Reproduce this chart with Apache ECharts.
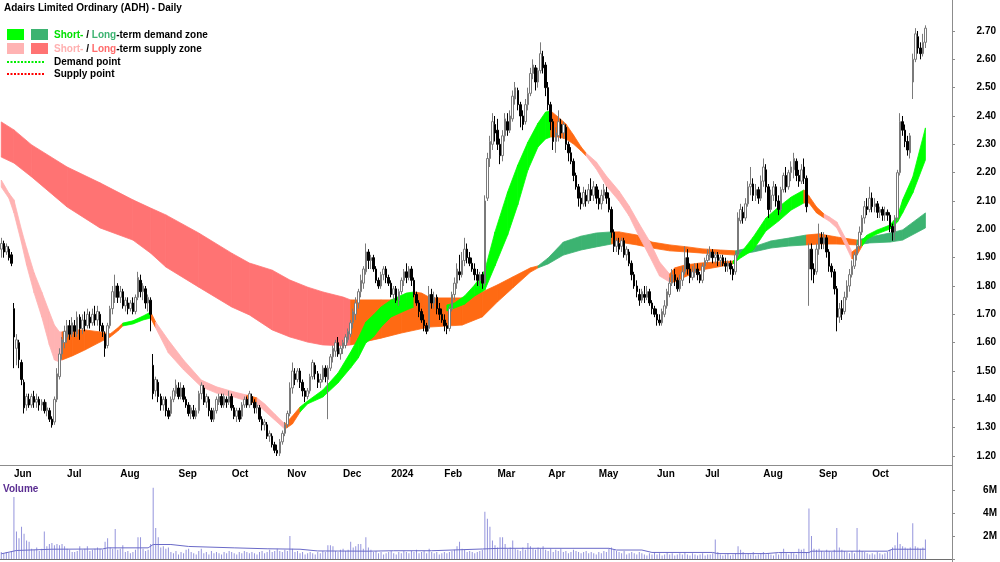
<!DOCTYPE html>
<html>
<head>
<meta charset="utf-8">
<script src="https://cdn.jsdelivr.net/npm/echarts@6/dist/echarts.min.js"></script>
<style>
  html, body { margin: 0; padding: 0; background: #fff; }
  #main { width: 1000px; height: 562px; }
</style>
</head>
<body>
<div id="main"></div>
<script>
// daily bars, 25 May 2023 .. 31 Oct 2024 : [open, close, low, high]
var ohlc = [
 [1.93,1.95,1.90,1.97],[1.95,1.92,1.90,1.96],[1.92,1.94,1.91,1.95],[1.93,1.90,1.89,1.94],[1.91,1.88,1.87,1.92],
 [1.72,1.62,1.51,1.74],[1.58,1.61,1.52,1.63],[1.60,1.54,1.51,1.61],[1.53,1.47,1.45,1.54],[1.46,1.37,1.35,1.47],
 [1.38,1.41,1.36,1.42],[1.40,1.38,1.37,1.42],[1.38,1.41,1.37,1.42],[1.41,1.39,1.37,1.43],[1.39,1.40,1.37,1.42],
 [1.40,1.38,1.36,1.41],[1.38,1.39,1.36,1.40],[1.39,1.36,1.35,1.40],[1.36,1.37,1.34,1.39],[1.36,1.33,1.32,1.37],
 [1.33,1.31,1.30,1.34],[1.32,1.40,1.31,1.41],[1.40,1.49,1.39,1.51],[1.48,1.56,1.47,1.58],[1.56,1.61,1.54,1.62],
 [1.60,1.64,1.58,1.66],[1.62,1.66,1.60,1.68],[1.66,1.63,1.61,1.68],[1.63,1.67,1.62,1.69],[1.66,1.64,1.62,1.68],
 [1.63,1.69,1.62,1.71],[1.69,1.65,1.61,1.70],[1.65,1.68,1.63,1.70],[1.68,1.66,1.64,1.71],[1.66,1.70,1.65,1.72],
 [1.69,1.67,1.65,1.71],[1.67,1.70,1.66,1.72],[1.70,1.68,1.66,1.73],[1.68,1.71,1.66,1.73],[1.70,1.66,1.64,1.71],
 [1.66,1.64,1.62,1.67],[1.63,1.58,1.55,1.64],[1.59,1.66,1.58,1.67],[1.66,1.72,1.65,1.73],[1.72,1.78,1.70,1.80],
 [1.76,1.80,1.74,1.84],[1.80,1.76,1.74,1.81],[1.76,1.78,1.74,1.80],[1.78,1.73,1.72,1.79],[1.73,1.75,1.71,1.76],
 [1.74,1.72,1.70,1.76],[1.72,1.74,1.71,1.75],[1.74,1.71,1.70,1.76],[1.71,1.76,1.70,1.77],[1.76,1.83,1.75,1.85],
 [1.82,1.78,1.76,1.84],[1.78,1.80,1.75,1.81],[1.79,1.74,1.72,1.80],[1.74,1.76,1.71,1.77],[1.75,1.70,1.64,1.76],
 [1.52,1.42,1.40,1.56],[1.43,1.47,1.41,1.48],[1.46,1.41,1.39,1.47],[1.41,1.38,1.36,1.42],[1.38,1.40,1.36,1.41],
 [1.40,1.36,1.34,1.41],[1.36,1.34,1.33,1.37],[1.35,1.40,1.34,1.41],[1.40,1.43,1.39,1.44],[1.42,1.45,1.41,1.47],
 [1.44,1.41,1.40,1.46],[1.41,1.44,1.40,1.46],[1.44,1.40,1.39,1.45],[1.40,1.38,1.37,1.41],[1.38,1.35,1.34,1.39],
 [1.35,1.37,1.33,1.38],[1.36,1.34,1.33,1.38],[1.34,1.36,1.33,1.37],[1.36,1.42,1.35,1.43],[1.42,1.45,1.40,1.46],
 [1.44,1.39,1.38,1.45],[1.39,1.41,1.37,1.42],[1.40,1.36,1.34,1.41],[1.36,1.33,1.32,1.37],[1.33,1.36,1.32,1.37],
 [1.36,1.40,1.35,1.41],[1.39,1.41,1.38,1.42],[1.41,1.38,1.37,1.42],[1.38,1.41,1.37,1.42],[1.40,1.39,1.37,1.41],
 [1.39,1.41,1.38,1.43],[1.41,1.37,1.36,1.42],[1.37,1.34,1.33,1.38],[1.34,1.36,1.32,1.37],[1.36,1.33,1.32,1.37],
 [1.34,1.38,1.33,1.39],[1.38,1.40,1.37,1.41],[1.40,1.38,1.37,1.41],[1.38,1.42,1.37,1.43],[1.41,1.39,1.38,1.42],
 [1.39,1.37,1.35,1.40],[1.37,1.38,1.35,1.39],[1.37,1.33,1.32,1.38],[1.33,1.31,1.29,1.34],[1.31,1.32,1.29,1.33],
 [1.31,1.27,1.26,1.32],[1.27,1.28,1.25,1.29],[1.27,1.24,1.23,1.28],[1.24,1.22,1.21,1.25],[1.22,1.21,1.20,1.24],
 [1.21,1.25,1.20,1.26],[1.25,1.28,1.24,1.29],[1.28,1.31,1.27,1.32],[1.31,1.35,1.30,1.36],[1.35,1.44,1.34,1.46],
 [1.44,1.50,1.42,1.53],[1.49,1.47,1.45,1.51],[1.47,1.50,1.46,1.51],[1.50,1.46,1.44,1.51],[1.46,1.43,1.41,1.47],
 [1.43,1.41,1.39,1.44],[1.41,1.43,1.40,1.44],[1.43,1.48,1.42,1.49],[1.48,1.53,1.47,1.54],[1.52,1.49,1.47,1.53],
 [1.49,1.46,1.44,1.50],[1.46,1.47,1.44,1.49],[1.47,1.51,1.46,1.52],[1.51,1.48,1.46,1.52],[1.47,1.51,1.33,1.52],
 [1.51,1.55,1.50,1.56],[1.55,1.58,1.53,1.59],[1.57,1.60,1.55,1.61],[1.60,1.56,1.55,1.62],[1.56,1.58,1.54,1.59],
 [1.58,1.60,1.56,1.61],[1.59,1.62,1.58,1.63],[1.61,1.64,1.60,1.65],[1.63,1.67,1.62,1.68],[1.67,1.71,1.65,1.72],
 [1.70,1.74,1.68,1.76],[1.74,1.78,1.72,1.79],[1.78,1.82,1.76,1.84],[1.81,1.86,1.79,1.87],[1.85,1.92,1.84,1.95],
 [1.92,1.89,1.86,1.93],[1.89,1.90,1.86,1.91],[1.90,1.86,1.85,1.91],[1.86,1.82,1.81,1.87],[1.82,1.80,1.79,1.83],
 [1.80,1.84,1.79,1.85],[1.84,1.86,1.82,1.87],[1.86,1.83,1.81,1.87],[1.83,1.81,1.80,1.84],[1.81,1.77,1.76,1.82],
 [1.77,1.79,1.75,1.80],[1.79,1.75,1.74,1.80],[1.75,1.78,1.73,1.79],[1.78,1.82,1.77,1.83],[1.82,1.85,1.80,1.86],
 [1.85,1.83,1.81,1.88],[1.83,1.86,1.82,1.87],[1.86,1.82,1.80,1.87],[1.82,1.77,1.76,1.83],[1.77,1.74,1.73,1.78],
 [1.74,1.71,1.69,1.75],[1.71,1.68,1.67,1.72],[1.68,1.66,1.64,1.70],[1.66,1.64,1.63,1.67],[1.65,1.77,1.64,1.80],
 [1.77,1.74,1.72,1.79],[1.74,1.76,1.72,1.78],[1.76,1.72,1.70,1.77],[1.72,1.70,1.68,1.74],[1.70,1.68,1.67,1.72],
 [1.68,1.66,1.64,1.70],[1.66,1.65,1.63,1.67],[1.65,1.72,1.64,1.73],[1.72,1.77,1.71,1.78],[1.77,1.81,1.75,1.83],
 [1.81,1.86,1.79,1.88],[1.85,1.84,1.82,1.91],[1.84,1.89,1.83,1.92],[1.89,1.93,1.87,1.97],[1.93,1.90,1.88,1.95],
 [1.90,1.88,1.87,1.92],[1.88,1.86,1.85,1.90],[1.86,1.84,1.82,1.88],[1.84,1.82,1.80,1.86],[1.82,1.84,1.80,1.85],
 [1.84,1.81,1.79,1.85],[1.81,2.10,1.80,2.12],[2.11,2.25,2.10,2.27],[2.25,2.31,2.22,2.33],[2.30,2.38,2.28,2.41],
 [2.37,2.34,2.31,2.40],[2.35,2.30,2.28,2.39],[2.30,2.26,2.23,2.32],[2.26,2.33,2.24,2.35],[2.33,2.39,2.31,2.41],
 [2.38,2.35,2.33,2.41],[2.35,2.40,2.34,2.42],[2.39,2.47,2.38,2.49],[2.46,2.50,2.44,2.52],[2.49,2.44,2.42,2.50],
 [2.44,2.40,2.36,2.45],[2.40,2.37,2.35,2.42],[2.38,2.44,2.37,2.46],[2.44,2.48,2.42,2.50],[2.48,2.55,2.47,2.57],
 [2.55,2.58,2.53,2.60],[2.57,2.52,2.49,2.58],[2.52,2.56,2.50,2.57],[2.56,2.62,2.55,2.66],[2.61,2.57,2.55,2.63],
 [2.58,2.50,2.47,2.59],[2.50,2.44,2.42,2.52],[2.44,2.38,2.35,2.45],[2.38,2.31,2.28,2.39],[2.31,2.34,2.27,2.36],
 [2.33,2.38,2.31,2.42],[2.37,2.34,2.32,2.39],[2.34,2.37,2.32,2.38],[2.36,2.30,2.28,2.37],[2.30,2.27,2.24,2.31],
 [2.27,2.24,2.23,2.29],[2.24,2.19,2.17,2.25],[2.19,2.15,2.14,2.20],[2.15,2.11,2.08,2.16],[2.11,2.09,2.07,2.13],
 [2.09,2.13,2.08,2.15],[2.12,2.10,2.08,2.14],[2.10,2.14,2.09,2.16],[2.14,2.12,2.10,2.18],[2.12,2.15,2.10,2.17],
 [2.15,2.11,2.09,2.16],[2.11,2.09,2.07,2.14],[2.09,2.12,2.07,2.14],[2.12,2.14,2.10,2.16],[2.13,2.11,2.09,2.15],
 [2.11,2.07,2.06,2.13],[2.07,1.99,1.97,2.08],[1.99,1.94,1.92,2.00],[1.94,1.96,1.92,1.97],[1.95,1.93,1.91,1.97],
 [1.94,1.96,1.92,1.97],[1.96,1.91,1.90,1.97],[1.91,1.93,1.89,1.94],[1.92,1.88,1.87,1.93],[1.88,1.84,1.82,1.89],
 [1.84,1.80,1.79,1.85],[1.80,1.78,1.76,1.82],[1.77,1.75,1.73,1.79],[1.75,1.78,1.74,1.79],[1.77,1.76,1.74,1.80],
 [1.76,1.78,1.75,1.80],[1.78,1.74,1.73,1.79],[1.74,1.72,1.70,1.75],[1.72,1.70,1.69,1.73],[1.70,1.68,1.66,1.72],
 [1.68,1.67,1.66,1.70],[1.67,1.71,1.66,1.72],[1.70,1.73,1.69,1.75],[1.73,1.78,1.72,1.79],[1.77,1.81,1.76,1.83],
 [1.81,1.84,1.80,1.86],[1.84,1.82,1.80,1.86],[1.82,1.79,1.78,1.83],[1.79,1.82,1.78,1.84],[1.82,1.85,1.80,1.87],
 [1.85,1.90,1.84,1.94],[1.90,1.86,1.84,1.93],[1.86,1.83,1.81,1.88],[1.83,1.85,1.82,1.87],[1.85,1.86,1.83,1.88],
 [1.86,1.84,1.82,1.88],[1.84,1.82,1.81,1.85],[1.82,1.87,1.81,1.88],[1.87,1.89,1.85,1.90],[1.89,1.91,1.88,1.93],
 [1.90,1.92,1.89,1.94],[1.92,1.90,1.88,1.93],[1.90,1.91,1.88,1.92],[1.91,1.89,1.87,1.92],[1.89,1.90,1.87,1.91],
 [1.90,1.88,1.87,1.91],[1.88,1.87,1.85,1.90],[1.87,1.88,1.85,1.89],[1.88,1.86,1.84,1.89],[1.86,1.84,1.82,1.87],
 [1.85,1.91,1.84,1.92],[1.91,2.04,1.90,2.06],[2.03,2.07,2.02,2.09],[2.06,2.04,2.02,2.08],[2.04,2.09,2.03,2.11],
 [2.09,2.15,2.08,2.17],[2.15,2.16,2.12,2.22],[2.16,2.12,2.10,2.18],[2.12,2.14,2.10,2.16],[2.14,2.11,2.09,2.15],
 [2.11,2.17,2.10,2.19],[2.17,2.22,2.15,2.25],[2.21,2.15,2.13,2.23],[2.15,2.07,2.04,2.16],[2.07,2.12,2.06,2.14],
 [2.12,2.15,2.10,2.17],[2.15,2.10,2.08,2.16],[2.10,2.07,2.05,2.12],[2.07,2.14,2.06,2.15],[2.14,2.19,2.13,2.20],
 [2.19,2.15,2.13,2.22],[2.15,2.20,2.14,2.21],[2.20,2.22,2.17,2.24],[2.21,2.25,2.18,2.27],[2.24,2.19,2.17,2.25],
 [2.19,2.17,2.15,2.21],[2.17,2.21,2.16,2.23],[2.22,2.18,2.16,2.25],[2.18,2.08,2.06,2.19],[1.86,1.93,1.73,1.95],
 [1.93,1.86,1.82,1.95],[1.86,1.84,1.81,1.88],[1.85,1.93,1.84,1.95],[1.93,1.97,1.91,2.02],[1.97,1.95,1.93,1.99],
 [1.95,1.97,1.93,1.99],[1.97,1.92,1.90,1.98],[1.92,1.87,1.85,1.93],[1.87,1.85,1.83,1.88],[1.85,1.79,1.77,1.86],
 [1.79,1.69,1.64,1.80],[1.69,1.72,1.67,1.74],[1.72,1.70,1.68,1.75],[1.71,1.76,1.70,1.78],[1.76,1.80,1.75,1.82],
 [1.80,1.84,1.78,1.86],[1.84,1.87,1.83,1.89],[1.87,1.91,1.86,1.92],[1.91,1.94,1.89,1.95],[1.94,1.99,1.93,2.01],
 [1.99,2.04,1.98,2.05],[2.04,2.08,2.02,2.10],[2.08,2.07,2.05,2.11],[2.07,2.11,2.06,2.15],[2.11,2.08,2.06,2.13],
 [2.08,2.09,2.06,2.11],[2.09,2.06,2.04,2.10],[2.06,2.07,2.04,2.08],[2.07,2.05,2.03,2.08],[2.05,2.06,2.03,2.08],
 [2.06,2.05,2.03,2.07],[2.05,2.01,1.99,2.06],[2.01,1.99,1.96,2.02],[1.99,2.04,1.96,2.05],[2.04,2.20,2.03,2.21],
 [2.20,2.38,2.19,2.41],[2.38,2.35,2.33,2.40],[2.35,2.31,2.29,2.37],[2.31,2.28,2.26,2.33],[2.27,2.33,2.25,2.34],
 [2.52,2.60,2.46,2.62],[2.60,2.69,2.59,2.71],[2.68,2.64,2.62,2.70],[2.64,2.62,2.60,2.66],[2.62,2.66,2.61,2.69],
 [2.66,2.71,2.64,2.72]
];

// daily volume, millions of shares
var volume = [
 0.6,0.5,0.6,0.55,0.7,5.4,2.4,1.8,2.8,2.2,
 1.6,1.5,0.9,0.8,1.0,0.7,0.9,2.4,1.1,1.3,
 1.4,1.2,1.3,1.2,1.3,1.1,0.9,0.8,0.6,0.6,
 0.7,1.1,0.8,0.9,1.1,0.7,0.8,0.9,1.0,0.9,
 0.8,1.5,1.8,1.0,0.9,2.6,0.8,0.9,1.2,0.6,
 0.7,0.5,0.6,0.8,1.9,1.9,0.9,0.7,0.8,1.3,
 6.2,2.7,1.9,1.0,1.1,0.9,1.0,0.6,0.5,0.7,
 0.4,0.6,0.5,0.8,0.9,0.6,0.5,0.4,0.7,0.9,
 0.5,0.6,0.4,0.7,0.5,0.6,0.5,0.4,0.6,0.5,
 0.7,0.6,0.5,0.4,0.6,0.5,0.7,0.6,0.5,0.6,
 0.5,0.4,0.6,0.7,0.5,0.6,0.8,0.6,0.7,0.9,
 0.7,0.6,0.8,0.7,2.0,0.9,0.6,0.7,0.5,0.6,
 0.4,0.5,0.6,0.5,0.4,0.6,0.5,0.7,0.6,1.2,
 1.2,1.1,0.7,0.6,0.8,0.9,0.7,0.8,1.5,1.0,
 1.1,1.3,1.3,0.9,1.9,1.0,0.8,0.6,0.7,0.5,
 0.6,0.4,0.5,0.6,0.7,0.5,0.4,0.6,0.5,0.7,
 0.6,0.5,0.7,0.6,0.8,0.5,0.6,0.7,0.5,0.9,
 0.6,0.5,0.6,0.4,0.5,0.6,0.5,0.6,0.7,0.8,
 1.1,1.5,0.9,0.8,0.6,0.7,0.6,0.5,0.6,0.7,
 0.8,4.1,3.5,2.8,1.6,1.2,1.0,1.9,1.9,1.3,
 0.9,1.0,1.6,0.9,0.8,0.7,1.0,0.8,1.4,1.1,
 0.9,0.8,1.0,0.9,1.1,0.8,0.7,0.9,0.6,0.8,
 0.7,0.9,0.6,0.7,0.5,0.6,0.8,0.7,0.6,0.5,
 0.6,0.7,0.5,0.6,0.5,0.4,0.6,0.5,0.7,0.6,
 0.9,1.0,0.8,0.7,0.6,0.5,0.7,0.4,0.5,0.6,
 0.5,0.4,0.6,0.5,0.4,0.3,0.5,0.4,0.6,0.4,
 0.5,0.3,0.4,0.6,0.4,0.5,0.3,0.4,0.5,0.4,
 0.6,0.4,0.3,0.5,0.4,0.3,0.4,0.5,0.3,0.4,
 0.4,0.5,1.7,0.6,0.4,0.3,0.4,0.5,0.3,0.4,
 0.5,1.1,0.8,0.6,0.4,0.5,0.4,0.6,0.3,0.4,
 0.5,0.6,0.4,0.5,0.4,0.3,0.5,0.4,0.6,0.9,
 0.5,0.4,0.6,0.5,0.4,0.9,0.8,0.9,0.6,4.4,
 2.0,0.9,0.8,0.9,0.7,0.6,0.8,0.7,0.6,0.8,
 2.7,1.0,0.8,0.7,0.6,0.5,0.7,0.5,2.7,0.8,
 0.7,0.6,0.5,0.4,0.5,0.4,0.6,0.5,0.4,0.5,
 0.6,0.8,1.0,1.2,2.3,1.3,1.1,1.0,0.9,1.0,
 3.1,1.1,1.0,0.9,1.0,1.7
];

// volume average line: [day, millions]
var volAvg = [[0,0.45],[6,0.74],[20,0.85],[40,0.87],[42,0.97],[58,0.97],[60,1.26],[67,1.26],[74,1.09],
 [92,0.97],[105,0.89],[118,0.85],[125,0.70],[145,0.68],[155,0.72],[170,0.72],[190,0.87],[197,0.93],
 [240,0.93],[243,0.78],[253,0.78],[257,0.57],[281,0.57],[283,0.47],[302,0.47],[307,0.56],[319,0.56],
 [320,0.68],[350,0.68],[352,0.85],[365,0.85]];

// trend zones: [day, lower, upper, state]  S = supply, N = neutral, D = demand
var shortBand = [
 [0,2.149,2.174,'S'],[3,2.110,2.128,'S'],[5,2.058,2.104,'S'],[8,1.952,1.998,'S'],[10,1.874,1.934,'S'],
 [13,1.775,1.846,'S'],[16,1.691,1.779,'S'],[19,1.592,1.708,'S'],[21,1.539,1.662,'S'],[23,1.532,1.638,'S'],
 [24,1.539,1.638,'N'],[28,1.553,1.645,'N'],[33,1.574,1.645,'N'],[39,1.602,1.638,'N'],[43,1.620,1.631,'N'],
 [46,1.641,1.652,'N'],[48,1.659,1.669,'D'],[52,1.666,1.677,'D'],[56,1.680,1.694,'D'],[59,1.687,1.708,'N'],
 [61,1.652,1.673,'S'],[66,1.564,1.609,'S'],[72,1.504,1.539,'S'],[79,1.444,1.468,'S'],[85,1.422,1.444,'S'],
 [92,1.408,1.426,'S'],[97,1.394,1.415,'N'],[101,1.384,1.405,'S'],[104,1.359,1.384,'S'],[108,1.327,1.348,'S'],
 [112,1.295,1.313,'N'],[115,1.313,1.341,'N'],[118,1.355,1.373,'D'],[121,1.384,1.394,'D'],[127,1.408,1.433,'D'],
 [133,1.458,1.493,'D'],[138,1.511,1.567,'D'],[141,1.546,1.616,'D'],[144,1.599,1.673,'D'],[147,1.620,1.698,'D'],
 [150,1.655,1.726,'D'],[154,1.691,1.751,'D'],[160,1.715,1.775,'D'],[163,1.726,1.779,'N'],[166,1.729,1.775,'N'],
 [171,1.708,1.751,'N'],[176,1.712,1.733,'D'],[179,1.722,1.740,'D'],[183,1.736,1.765,'D'],[187,1.765,1.804,'D'],
 [191,1.786,1.856,'D'],[195,1.871,1.991,'D'],[200,1.980,2.132,'D'],[204,2.086,2.227,'D'],[208,2.209,2.308,'D'],
 [212,2.291,2.375,'D'],[215,2.319,2.414,'D'],[217,2.326,2.418,'N'],[220,2.326,2.396,'N'],[223,2.319,2.372,'N'],
 [226,2.301,2.333,'N'],[229,2.277,2.291,'N'],[231,2.259,2.269,'S'],[235,2.213,2.238,'S'],[239,2.153,2.188,'S'],
 [244,2.100,2.135,'S'],[248,2.047,2.082,'S'],[252,1.973,2.019,'S'],[256,1.906,1.959,'S'],[260,1.835,1.885,'S'],
 [264,1.814,1.842,'N'],[266,1.814,1.864,'N'],[270,1.832,1.874,'N'],[276,1.856,1.881,'N'],[283,1.867,1.885,'N'],
 [289,1.878,1.888,'D'],[292,1.899,1.916,'D'],[297,1.927,1.973,'D'],[302,1.994,2.040,'D'],[307,2.029,2.079,'D'],
 [312,2.068,2.114,'D'],[317,2.093,2.139,'N'],[319,2.093,2.118,'N'],[322,2.058,2.079,'N'],[325,2.040,2.054,'S'],
 [327,2.029,2.044,'S'],[330,2.005,2.026,'S'],[333,1.952,1.976,'S'],[336,1.895,1.920,'N'],[338,1.909,1.934,'N'],
 [340,1.941,1.962,'D'],[342,1.966,1.980,'D'],[346,1.984,1.998,'D'],[351,2.001,2.015,'D'],[354,2.026,2.047,'D'],
 [356,2.058,2.104,'D'],[360,2.128,2.185,'D'],[365,2.245,2.358,'D']
];
var longBand = [
 [0,2.255,2.379,'S'],[5,2.234,2.351,'S'],[12,2.185,2.298,'S'],[26,2.079,2.220,'S'],[39,2.005,2.164,'S'],
 [52,1.962,2.104,'S'],[59,1.916,2.075,'S'],[65,1.867,2.051,'S'],[78,1.796,1.987,'S'],[91,1.726,1.916,'S'],
 [98,1.698,1.881,'S'],[107,1.645,1.856,'S'],[114,1.620,1.821,'S'],[121,1.602,1.796,'S'],[127,1.592,1.779,'S'],
 [135,1.589,1.761,'S'],[138,1.592,1.751,'N'],[150,1.616,1.751,'N'],[158,1.634,1.751,'N'],[169,1.655,1.758,'N'],
 [182,1.662,1.758,'N'],[190,1.691,1.779,'N'],[196,1.744,1.804,'N'],[202,1.793,1.832,'N'],[209,1.849,1.864,'N'],
 [212,1.864,1.871,'D'],[216,1.878,1.899,'D'],[222,1.909,1.955,'D'],[229,1.927,1.976,'D'],[235,1.938,1.987,'D'],
 [241,1.948,1.991,'N'],[244,1.955,1.991,'N'],[251,1.945,1.980,'N'],[257,1.934,1.955,'N'],[264,1.924,1.945,'N'],
 [271,1.920,1.938,'N'],[277,1.916,1.931,'N'],[284,1.913,1.927,'N'],[290,1.909,1.924,'D'],[297,1.920,1.938,'D'],
 [304,1.934,1.959,'D'],[311,1.941,1.969,'D'],[318,1.945,1.980,'N'],[323,1.948,1.984,'N'],[330,1.948,1.973,'N'],
 [338,1.945,1.962,'D'],[343,1.952,1.973,'D'],[351,1.955,1.987,'D'],[356,1.962,1.998,'D'],[365,2.005,2.058,'D']
];

// month label positions (day index of first trading day)
var monthDays  = [5, 26, 47, 70, 91, 113, 135, 154, 175, 196, 216, 236, 259, 278, 301, 323, 344];
var monthNames = ['Jun','Jul','Aug','Sep','Oct','Nov','Dec','2024','Feb','Mar','Apr','May','Jun','Jul','Aug','Sep','Oct'];
var priceTicks = [1.2,1.3,1.4,1.5,1.6,1.7,1.8,1.9,2.0,2.1,2.2,2.3,2.4,2.5,2.6,2.7];
var volTicks = [2, 4, 6];

var shortColors = { S: '#ffb3b3', N: '#ff6a13', D: '#00ff00' };
var longColors  = { S: '#ff7373', N: '#ff6a13', D: '#3cb371' };

var nSlots = 376;
var cats = [];
for (var i = 0; i < nSlots; i++) cats.push(String(i));

var monthLabel = {};
monthDays.forEach(function (d, k) { monthLabel[d] = monthNames[k]; });
function isMonth(idx) { return monthLabel[idx] !== undefined; }

var FONT = 'Liberation Sans, Arial, sans-serif';
var TXT = 'bold 10px ' + FONT;

function bandSeries(rows, colors, z) {
  var data = [];
  for (var k = 0; k < rows.length - 1; k++) data.push([rows[k][0], rows[k][1], rows[k][2]]);
  return {
    type: 'custom', xAxisIndex: 0, yAxisIndex: 0, z: z, silent: true,
    encode: { x: 0, y: [1, 2] },
    data: data,
    renderItem: function (params, api) {
      var a = rows[params.dataIndex], b = rows[params.dataIndex + 1];
      var col = colors[a[3]];
      var pts = [api.coord([a[0], a[2]]), api.coord([b[0], b[2]]),
                 api.coord([b[0], b[1]]), api.coord([a[0], a[1]])];
      return { type: 'polygon', shape: { points: pts },
               style: { fill: col, stroke: col, lineWidth: 0.8 } };
    }
  };
}

var chart = echarts.init(document.getElementById('main'));

chart.setOption({
  animation: false,
  backgroundColor: '#ffffff',
  grid: [
    { left: 0, right: 48, top: 0, height: 465 },
    { left: 0, right: 48, top: 480, bottom: 3 }
  ],
  xAxis: [
    {
      type: 'category', gridIndex: 0, data: cats, boundaryGap: true,
      axisLine: { lineStyle: { color: '#8c8c8c', width: 1 } },
      axisTick: { interval: function (idx) { return isMonth(idx); }, length: 3, lineStyle: { color: '#8c8c8c' } },
      axisLabel: {
        interval: function (idx) { return isMonth(idx); },
        formatter: function (v, idx) { return monthLabel[idx] || ''; },
        align: 'left', margin: 4, color: '#000', fontWeight: 'bold', fontSize: 10, fontFamily: FONT
      },
      splitLine: { show: false }
    },
    {
      type: 'category', gridIndex: 1, data: cats, boundaryGap: true, position: 'top',
      axisLine: { lineStyle: { color: '#6e6e6e', width: 1 } },
      axisTick: { show: false }, axisLabel: { show: false }, splitLine: { show: false }
    }
  ],
  yAxis: [
    {
      type: 'value', gridIndex: 0, position: 'right', min: 1.1682, max: 2.8094, scale: true,
      axisLine: { show: false }, splitLine: { show: false },
      axisTick: { show: true, customValues: priceTicks, length: 3, lineStyle: { color: '#8c8c8c' } },
      axisLabel: {
        customValues: priceTicks, formatter: function (v) { return v.toFixed(2); },
        align: 'right', margin: 44, color: '#000', fontWeight: 'bold', fontSize: 10, fontFamily: FONT
      }
    },
    {
      type: 'value', gridIndex: 1, position: 'right', min: 0, max: 6.87,
      axisLine: { show: false }, splitLine: { show: false },
      axisTick: { show: true, customValues: [0, 2, 4, 6], length: 3, lineStyle: { color: '#8c8c8c' } },
      axisLabel: {
        customValues: volTicks, formatter: function (v) { return v + 'M'; },
        align: 'right', margin: 45, color: '#000', fontWeight: 'bold', fontSize: 10, fontFamily: FONT
      }
    }
  ],
  series: [
    bandSeries(longBand, longColors, 1),
    bandSeries(shortBand, shortColors, 2),
    {
      type: 'candlestick', xAxisIndex: 0, yAxisIndex: 0, z: 5, barWidth: 2,
      data: ohlc,
      itemStyle: { color: '#ffffff', color0: '#000000', borderColor: '#7a7a7a', borderColor0: '#000000', borderWidth: 1 }
    },
    {
      type: 'bar', xAxisIndex: 1, yAxisIndex: 1, barWidth: 1, data: volume,
      itemStyle: { color: '#9494dc' }
    },
    {
      type: 'line', xAxisIndex: 1, yAxisIndex: 1, data: volAvg, symbol: 'none',
      lineStyle: { color: '#6a6ac8', width: 1 }, z: 3
    }
  ],
  graphic: [
    { type: 'line', shape: { x1: 952.5, y1: 0, x2: 952.5, y2: 562 }, style: { stroke: '#8c8c8c', lineWidth: 1 } },
    { type: 'text', left: 4, top: 3, style: { text: 'Adairs Limited Ordinary (ADH) - Daily', fill: '#000', font: TXT } },
    { type: 'rect', shape: { x: 7, y: 29, width: 17, height: 11 }, style: { fill: '#00ff00' } },
    { type: 'rect', shape: { x: 31, y: 29, width: 17, height: 11 }, style: { fill: '#3cb371' } },
    { type: 'rect', shape: { x: 7, y: 43, width: 17, height: 11 }, style: { fill: '#ffb3b3' } },
    { type: 'rect', shape: { x: 31, y: 43, width: 17, height: 11 }, style: { fill: '#ff7373' } },
    { type: 'line', shape: { x1: 7, y1: 62, x2: 45, y2: 62 }, style: { stroke: '#00ee00', lineWidth: 2, lineDash: [2, 1.5] } },
    { type: 'line', shape: { x1: 7, y1: 74, x2: 45, y2: 74 }, style: { stroke: '#ff0000', lineWidth: 2, lineDash: [2, 1.5] } },
    { type: 'text', left: 54, top: 30, style: {
        text: '{a|Short-} / {b|Long}-term demand zone', fill: '#000', font: TXT,
        rich: { a: { fill: '#00e000', font: TXT }, b: { fill: '#3cb371', font: TXT } } } },
    { type: 'text', left: 54, top: 44, style: {
        text: '{a|Short-} / {b|Long}-term supply zone', fill: '#000', font: TXT,
        rich: { a: { fill: '#ffb0b0', font: TXT }, b: { fill: '#ff6b6b', font: TXT } } } },
    { type: 'text', left: 54, top: 57, style: { text: 'Demand point', fill: '#000', font: TXT } },
    { type: 'text', left: 54, top: 69, style: { text: 'Supply point', fill: '#000', font: TXT } },
    { type: 'text', left: 3, top: 484, style: { text: 'Volume', fill: '#5a2d91', font: TXT } }
  ]
});
</script>
</body>
</html>
